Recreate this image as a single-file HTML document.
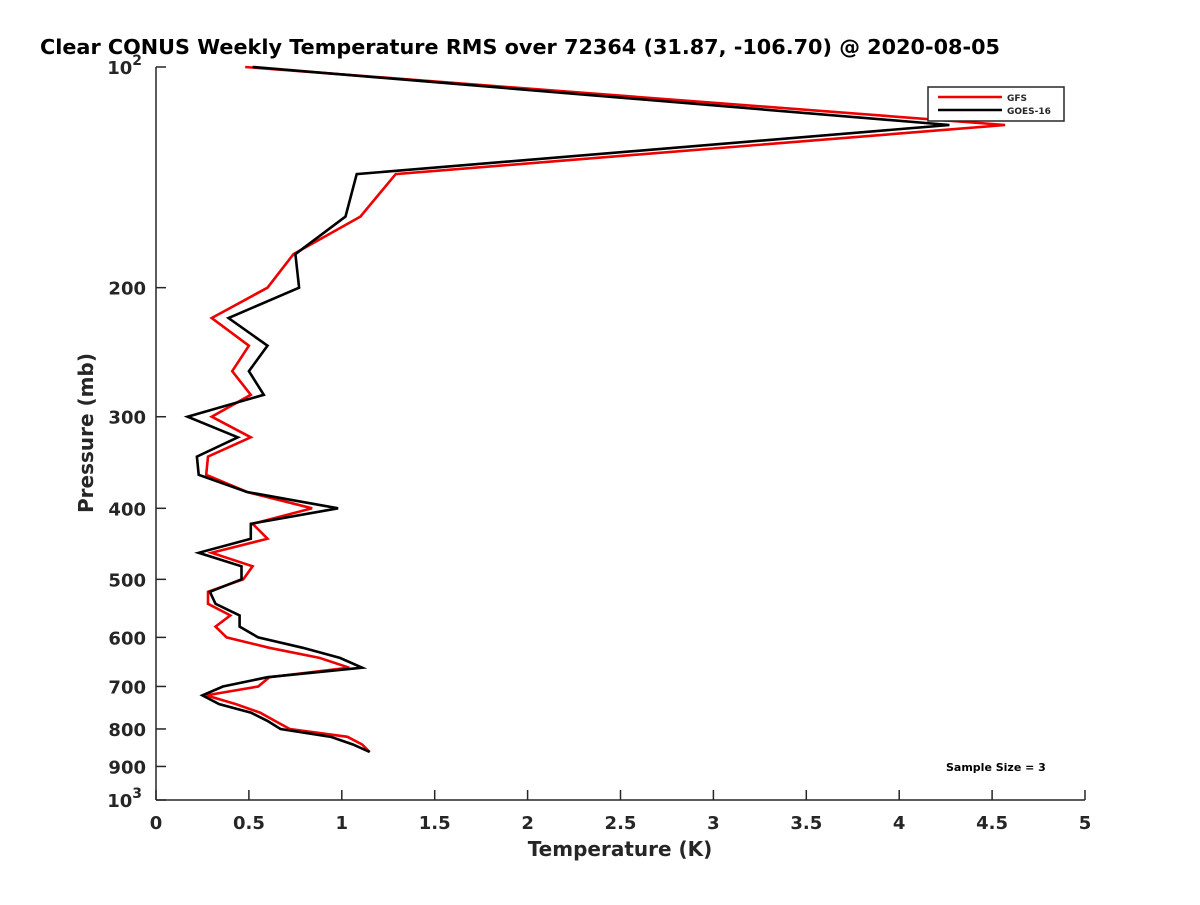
<!DOCTYPE html>
<html><head><meta charset="utf-8"><style>
body{margin:0;background:#fff;}
svg text{font-family:"DejaVu Sans","Liberation Sans",sans-serif;font-weight:bold;fill:#262626;}
</style></head><body>
<svg id="chart" width="1200" height="900" viewBox="0 0 1200 900" xmlns="http://www.w3.org/2000/svg">
<rect width="1200" height="900" fill="#fff"/>
<text x="40" y="54" font-size="20" textLength="960" lengthAdjust="spacingAndGlyphs" style="fill:#000">Clear CONUS Weekly Temperature RMS over 72364 (31.87, -106.70) @ 2020-08-05</text>
<g id="axes"></g>
<g id="series"></g>
<text x="620" y="856" font-size="20" text-anchor="middle">Temperature (K)</text>
<text transform="translate(93,433) rotate(-90)" font-size="20" text-anchor="middle">Pressure (mb)</text>
<g>
<rect x="928" y="87" width="136" height="34" fill="#fff" stroke="#262626" stroke-width="1.5"/>
<line x1="938" y1="97" x2="1002" y2="97" stroke="#e00" stroke-width="2.5"/>
<line x1="938" y1="110" x2="1002" y2="110" stroke="#000" stroke-width="2.5"/>
<text x="1007" y="101" font-size="9">GFS</text>
<text x="1007" y="114" font-size="9">GOES-16</text>
</g>
<text x="946" y="771" font-size="11" style="fill:#000">Sample Size = 3</text>
</svg>
<script>
const pressures=[100,120,140,160,180,200,220,240,260,280,300,320,340,360,380,400,420,440,460,480,500,520,540,560,580,600,620,640,660,680,700,720,740,760,780,800,820,840,860];
const goesValues=[0.52,4.27,1.08,1.02,0.75,0.77,0.39,0.60,0.50,0.58,0.17,0.44,0.22,0.23,0.49,0.98,0.51,0.51,0.23,0.46,0.46,0.29,0.32,0.45,0.45,0.55,0.79,0.99,1.11,0.60,0.36,0.25,0.34,0.51,0.60,0.67,0.94,1.06,1.15];
const gfsValues=[0.48,4.57,1.29,1.10,0.74,0.60,0.30,0.50,0.41,0.51,0.30,0.51,0.28,0.27,0.49,0.84,0.52,0.60,0.30,0.52,0.47,0.28,0.28,0.40,0.32,0.38,0.61,0.88,1.04,0.61,0.55,0.27,0.43,0.56,0.64,0.72,1.03,1.11,1.15];
const xTicks=[0,0.5,1,1.5,2,2.5,3,3.5,4,4.5,5];
const yTicks=[100,200,300,400,500,600,700,800,900,1000];
const yTickLabels=["10²","200","300","400","500","600","700","800","900","10³"];

const L=156,R=1085,T=67,B=800;
const xs=v=>L+(v-0)/(5-0)*(R-L);
const ys=p=>T+(Math.log10(p)-2)/(3-2)*(B-T);
const NS="http://www.w3.org/2000/svg";
function mk(tag,attrs,parent){const e=document.createElementNS(NS,tag);for(const k in attrs)e.setAttribute(k,attrs[k]);parent.appendChild(e);return e;}
const axes=document.getElementById('axes');
const xl=mk('line',{x1:L,y1:B,x2:R,y2:B,stroke:'#262626','stroke-width':1.5},axes);


const yl=mk('line',{x1:L,y1:T,x2:L,y2:B,stroke:'#262626','stroke-width':1.5},axes);


xTicks.forEach(v=>{
  const x=xs(v);
  const t=mk('line',{x1:x,y1:B,x2:x,y2:B-10,stroke:'#262626','stroke-width':1.5},axes);
  
  
  const lb=mk('text',{x:x,y:B+29,'font-size':18,'text-anchor':'middle'},axes);
  lb.textContent=String(v);
  
  
});
yTicks.forEach((p,i)=>{
  const y=ys(p);
  const t=mk('line',{x1:L,y1:y,x2:L+10,y2:y,stroke:'#262626','stroke-width':1.5},axes);
  
  
  const lab=yTickLabels[i];
  const lb=mk('text',{x:L-10,y:y+7,'font-size':18,'text-anchor':'end'},axes);
  if(lab.length===3&&(lab[2]==='²'||lab[2]==='³')){
    lb.textContent='10';
    const s=mk('tspan',{dy:-9,'font-size':14},lb);
    s.textContent=lab[2]==='²'?'2':'3';
    lb.setAttribute('x',L-14);
  } else lb.textContent=lab;
  
  
});
const ser=document.getElementById('series');
function line(vals,color,name){
  const pts=vals.map((v,i)=>xs(v).toFixed(1)+','+ys(pressures[i]).toFixed(1)).join(' ');
  const pl=mk('polyline',{points:pts,fill:'none',stroke:color,'stroke-width':2.6,'stroke-linejoin':'miter'},ser);
  
  
}
line(gfsValues,'#e00','gfs-line');
line(goesValues,'#000','goes16-line');
</script>
</body></html>
